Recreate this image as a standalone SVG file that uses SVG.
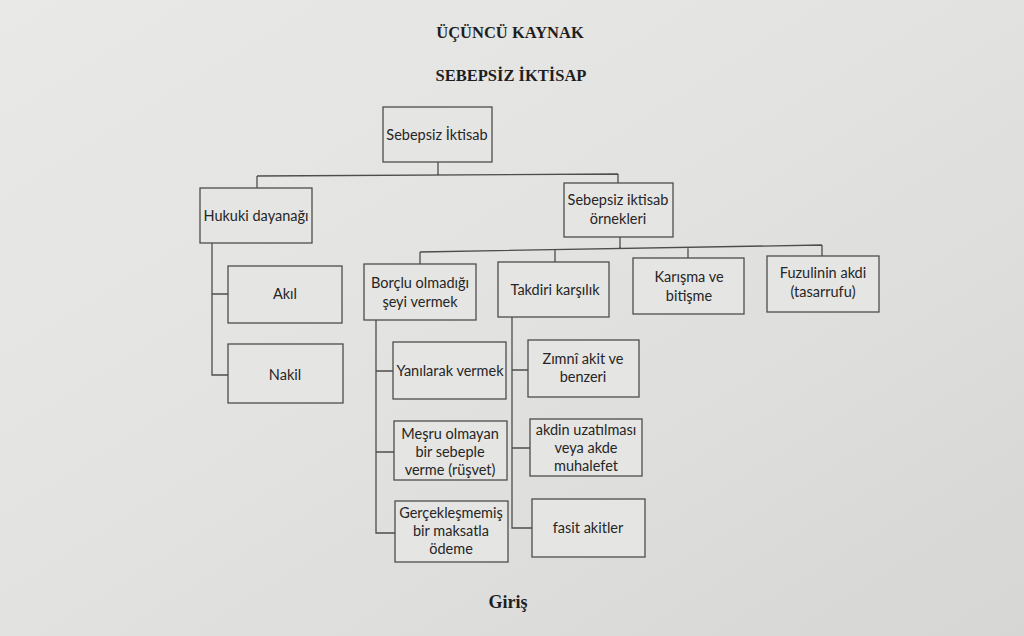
<svg xmlns="http://www.w3.org/2000/svg" width="1024" height="636" viewBox="0 0 1024 636">
<defs>
<linearGradient id="bg" x1="0" y1="0" x2="1" y2="1">
<stop offset="0" stop-color="#e9e9e7"/>
<stop offset="0.5" stop-color="#e2e2e0"/>
<stop offset="1" stop-color="#d6d6d4"/>
</linearGradient>
<style>
.box{fill:#e5e5e3;stroke:#4d4d4d;stroke-width:1.3}
.ln{fill:none;stroke:#4d4d4d;stroke-width:1.3}
.t{font-family:Lato,"Open Sans","Liberation Sans",sans-serif;font-size:14.5px;fill:#262626;text-anchor:middle}
.h{font-family:"Liberation Serif","DejaVu Serif",serif;font-weight:bold;fill:#1e1e1e;text-anchor:middle}
</style>
</defs>
<rect x="0" y="0" width="1024" height="636" fill="url(#bg)"/>
<g id="titles">
<text class="h" x="510" y="38" font-size="16.5">ÜÇÜNCÜ KAYNAK</text>
<text class="h" x="511" y="81" font-size="16.5">SEBEPSİZ İKTİSAP</text>
<text class="h" x="508" y="608" font-size="18">Giriş</text>
</g>
<g id="connectors">
<path class="ln" d="M438,162 V175 M257,176 L618,174 M257,176 V188 M618,174 V183"/>
<path class="ln" d="M212,243 V375 H228 M212,294 H228"/>
<path class="ln" d="M620,237 V249 M420,252 L822,245 M420,252 V264 M555,250 V262 M688,247 V258 M822,245 V256"/>
<path class="ln" d="M376,320 V533 H395 M376,371 H393 M376,452 H394"/>
<path class="ln" d="M512,317 V528 H532 M512,370 H528 M512,448 H530"/>
</g>
<g id="n-root"><rect class="box" x="383" y="107" width="109" height="55"/><text class="t" x="437" y="140">Sebepsiz İktisab</text></g>
<g id="n-hukuki"><rect class="box" x="200" y="188" width="112" height="55"/><text class="t" x="256" y="221">Hukuki dayanağı</text></g>
<g id="n-ornekleri"><rect class="box" x="564" y="183" width="109" height="54"/><text class="t" x="618" y="205">Sebepsiz iktisab</text><text class="t" x="618" y="224">örnekleri</text></g>
<g id="n-akil"><rect class="box" x="228" y="266" width="114" height="57"/><text class="t" x="285" y="299">Akıl</text></g>
<g id="n-nakil"><rect class="box" x="228" y="344" width="115" height="59"/><text class="t" x="285" y="380">Nakil</text></g>
<g id="n-borclu"><rect class="box" x="364" y="264" width="112" height="56"/><text class="t" x="420" y="288">Borçlu olmadığı</text><text class="t" x="420" y="307">şeyi vermek</text></g>
<g id="n-takdiri"><rect class="box" x="498" y="262" width="111" height="55"/><text class="t" x="555" y="295">Takdiri karşılık</text></g>
<g id="n-karisma"><rect class="box" x="633" y="258" width="111" height="56"/><text class="t" x="689" y="282">Karışma ve</text><text class="t" x="689" y="301">bitişme</text></g>
<g id="n-fuzuli"><rect class="box" x="767" y="256" width="112" height="56"/><text class="t" x="823" y="278">Fuzulinin akdi</text><text class="t" x="823" y="297">(tasarrufu)</text></g>
<g id="n-yanilarak"><rect class="box" x="393" y="342" width="113" height="57"/><text class="t" x="450" y="376">Yanılarak vermek</text></g>
<g id="n-mesru"><rect class="box" x="394" y="421" width="113" height="59"/><text class="t" x="450" y="439">Meşru olmayan</text><text class="t" x="450" y="457">bir sebeple</text><text class="t" x="450" y="475">verme (rüşvet)</text></g>
<g id="n-gercek"><rect class="box" x="395" y="501" width="113" height="61"/><text class="t" x="451" y="518">Gerçekleşmemiş</text><text class="t" x="451" y="536">bir maksatla</text><text class="t" x="451" y="554">ödeme</text></g>
<g id="n-zimni"><rect class="box" x="528" y="340" width="111" height="57"/><text class="t" x="583" y="364">Zımnî akit ve</text><text class="t" x="583" y="382">benzeri</text></g>
<g id="n-akdin"><rect class="box" x="530" y="419" width="112" height="57"/><text class="t" x="586" y="435">akdin uzatılması</text><text class="t" x="586" y="453">veya akde</text><text class="t" x="586" y="471">muhalefet</text></g>
<g id="n-fasit"><rect class="box" x="532" y="499" width="113" height="58"/><text class="t" x="588" y="533">fasit akitler</text></g>
</svg>
